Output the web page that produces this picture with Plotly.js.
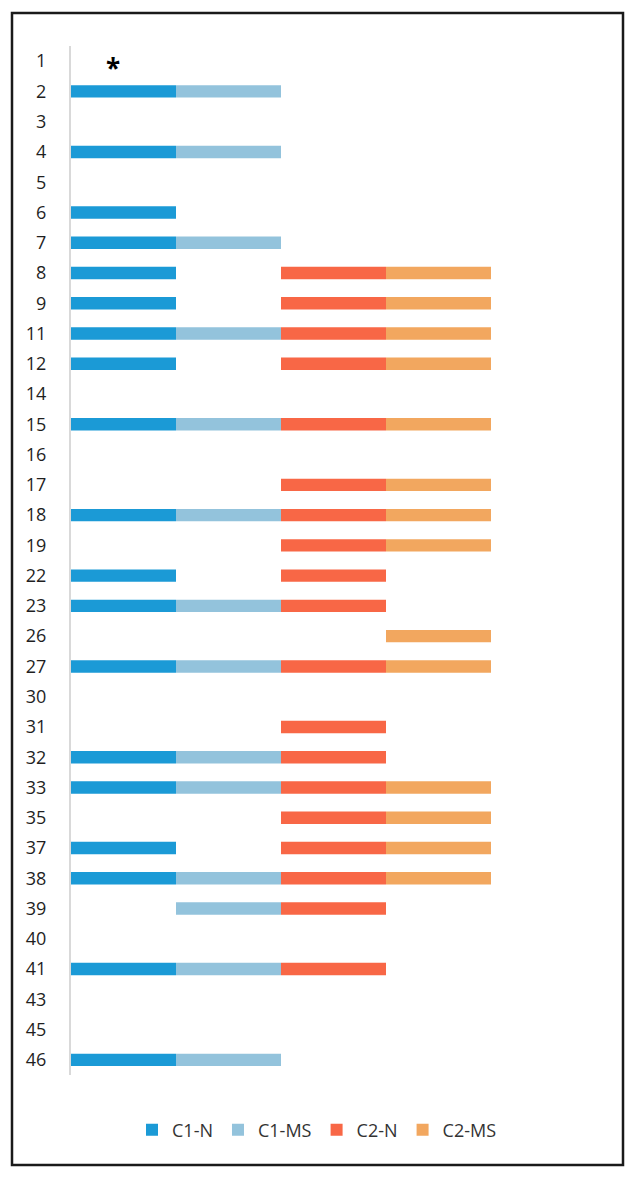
<!DOCTYPE html>
<html>
<head>
<meta charset="utf-8">
<script src="https://cdn.plot.ly/plotly-3.0.1.min.js"></script>
<style>
html,body{margin:0;padding:0;background:#fff;}
#chart{width:634px;height:1179px;}
</style>
</head>
<body>
<div id="chart"></div>
<script>
// Categories (top to bottom)
const categories = ["1","2","3","4","5","6","7","8","9","11","12","14","15","16","17","18","19","22","23","26","27","30","31","32","33","35","37","38","39","40","41","43","45","46"];
// Presence (1) / absence (0) of each series per category
const c1N  = [0,1,0,1,0,1,1,1,1,1,1,0,1,0,0,1,0,1,1,0,1,0,0,1,1,0,1,1,0,0,1,0,0,1];
const c1MS = [0,1,0,1,0,0,1,0,0,1,0,0,1,0,0,1,0,0,1,0,1,0,0,1,1,0,0,1,1,0,1,0,0,1];
const c2N  = [0,0,0,0,0,0,0,1,1,1,1,0,1,0,1,1,1,1,1,0,1,0,1,1,1,1,1,1,1,0,1,0,0,0];
const c2MS = [0,0,0,0,0,0,0,1,1,1,1,0,1,0,1,1,1,0,0,1,1,0,0,0,1,1,1,1,0,0,0,0,0,0];
const seriesNames = ["C1-N","C1-MS","C2-N","C2-MS"];
const seriesValues = [c1N, c1MS, c2N, c2MS];
const seriesColors = ["#1b9ad6","#93c3dc","#f86746","#f2a75f"];
const markedCategory = "1";

const traces = seriesValues.map((vals, i) => ({
  type: "bar",
  orientation: "h",
  name: seriesNames[i],
  y: categories,
  x: vals,
  base: i,
  marker: {color: seriesColors[i], line: {width: 0}},
  hoverinfo: "skip"
}));

// plot area geometry helpers for the outer frame
const W = 634, H = 1179, L = 71, R = 38, T = 46, B = 104;
const pw = W - L - R, ph = H - T - B;
const px = v => (v - L) / pw;
const py = v => 1 - (v - T) / ph;
const FONT = "'Open Sans', Lato, sans-serif";

const layout = {
  width: W, height: H,
  margin: {l: L, r: R, t: T, b: B, pad: 0},
  paper_bgcolor: "#ffffff",
  plot_bgcolor: "#ffffff",
  barmode: "overlay",
  bargap: 0.59,
  showlegend: true,
  font: {family: FONT, size: 18, color: "#262626"},
  xaxis: {
    range: [0, 5],
    visible: false,
    showgrid: false,
    zeroline: false,
    fixedrange: true
  },
  yaxis: {
    type: "category",
    range: [categories.length - 0.5, -0.5],
    autorange: false,
    showline: true,
    linecolor: "#d9d9d9",
    linewidth: 2,
    showgrid: false,
    zeroline: false,
    ticks: "",
    ticklabelstandoff: 19,
    tickfont: {family: FONT, size: 18, color: "#1f1f1f"},
    fixedrange: true
  },
  legend: {
    orientation: "h",
    xref: "container", yref: "container",
    x: 0.5, xanchor: "center",
    y: 49 / H, yanchor: "middle",
    font: {family: FONT, size: 18, color: "#333333"},
    traceorder: "normal",
    itemwidth: 30
  },
  annotations: [{
    x: 0.4, y: categories.indexOf(markedCategory), xref: "x", yref: "y",
    text: "<b>*</b>", showarrow: false,
    font: {family: FONT, size: 26, color: "#000000"},
    yshift: -7
  }],
  shapes: [{
    type: "rect", xref: "paper", yref: "paper",
    x0: px(12), x1: px(623), y0: py(1165), y1: py(13),
    line: {color: "#1a1a1a", width: 2.5},
    fillcolor: "rgba(0,0,0,0)",
    layer: "below"
  }]
};

Plotly.newPlot("chart", traces, layout, {displayModeBar: false, staticPlot: true});
</script>
</body>
</html>
